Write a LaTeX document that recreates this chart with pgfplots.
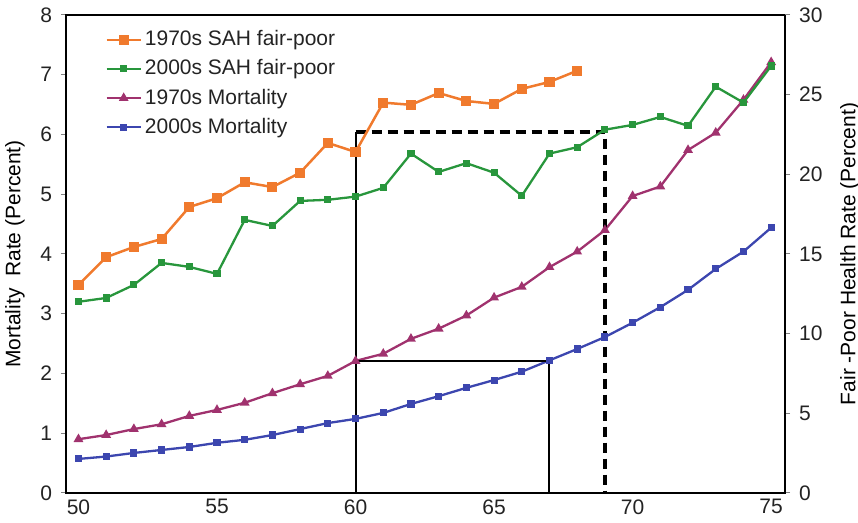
\documentclass[border=0pt]{standalone}
\usepackage{fontspec}
\setmainfont{Liberation Sans}
\usepackage{pgfplots}
\pgfplotsset{compat=1.18}
\definecolor{corange}{RGB}{240,122,45}
\definecolor{cgreen}{RGB}{40,150,60}
\definecolor{cpurple}{RGB}{160,50,110}
\definecolor{cblue}{RGB}{60,70,175}
\definecolor{ctext}{RGB}{35,35,35}
\begin{document}
\begin{tikzpicture}
\pgfplotsset{
 every axis/.append style={
  scale only axis, width=359.5pt, height=239pt,
  xmin=49.55, xmax=75.5,
  font=\fontsize{10.5}{12}\selectfont,
  /pgf/number format/assume math mode=true,
  axis line style={black, line width=0.75pt},
  tick align=outside, major tick length=2.5pt,
  tick style={gray, line width=0.5pt},
  ticklabel style={text=ctext},
  label style={text=ctext},
 }
}
\begin{axis}[name=ax,
  ymin=0, ymax=8, ytick={0,1,...,8}, ytick pos=left,
  xtick={50,55,60,65,70,75}, xtick style={draw=none},
  xticklabel style={yshift=1pt, inner sep=1.5pt},
  yticklabel style={xshift=-1pt},
  ylabel={Mortality\ \ Rate (Percent)},
  every axis y label/.style={at={(rel axis cs:-0.071,0.5)},anchor=center,rotate=90},
]
\addplot[cpurple, line width=1.15pt, mark=triangle*, mark size=1.7pt] coordinates {
(50,0.90)(51,0.97)(52,1.07)(53,1.15)(54,1.29)(55,1.39)(56,1.51)(57,1.67)(58,1.82)(59,1.96)
(60,2.21)(61,2.33)(62,2.58)(63,2.75)(64,2.97)(65,3.27)(66,3.45)(67,3.78)(68,4.04)(69,4.40)
(70,4.97)(71,5.13)(72,5.74)(73,6.03)(74,6.58)(75,7.21)};
\addplot[cblue, line width=1.15pt, mark=square*, mark size=1.2pt] coordinates {
(50,0.57)(51,0.61)(52,0.67)(53,0.72)(54,0.77)(55,0.84)(56,0.89)(57,0.97)(58,1.07)(59,1.17)
(60,1.24)(61,1.34)(62,1.49)(63,1.62)(64,1.76)(65,1.89)(66,2.03)(67,2.22)(68,2.41)(69,2.61)
(70,2.85)(71,3.11)(72,3.40)(73,3.75)(74,4.04)(75,4.44)};
\addplot[black, line width=1pt, no marks] coordinates {(60,0)(60,6.04)};
\addplot[black, line width=1pt, no marks] coordinates {(60,2.21)(67,2.21)(67,0)};
\addplot[black, line width=2pt, dash pattern=on 5pt off 3pt, no marks] coordinates {(60,6.04)(69,6.04)(69,0)};
\end{axis}
\begin{axis}[
  ymin=0, ymax=30, ytick={0,5,...,30},
  axis y line*=right, axis x line=none,
  yticklabel style={xshift=1pt},
  ylabel={Fair -Poor Health Rate (Percent)},
  every axis y label/.style={at={(rel axis cs:1.0904,0.5)},anchor=center,rotate=90},
  legend cell align=left,
  legend style={draw=none, fill=none, at={(0.046,0.985)}, anchor=north west,
    font=\fontsize{10.5}{12}\selectfont, text=ctext, row sep=1.5pt,
    nodes={inner xsep=1.5pt}},
  legend image post style={line width=1.15pt},
]
\addplot[corange, line width=1.25pt, mark=square*, mark size=1.9pt] coordinates {
(50,13.06)(51,14.8)(52,15.44)(53,15.94)(54,17.95)(55,18.5)(56,19.5)(57,19.2)(58,20.1)(59,21.97)
(60,21.4)(61,24.5)(62,24.36)(63,25.1)(64,24.6)(65,24.42)(66,25.36)(67,25.8)(68,26.5)};
\addlegendentry{1970s SAH fair-poor}
\addplot[cgreen, line width=1.15pt, mark=square*, mark size=1.2pt] coordinates {
(50,12.0)(51,12.24)(52,13.06)(53,14.44)(54,14.19)(55,13.75)(56,17.14)(57,16.76)(58,18.33)(59,18.4)
(60,18.6)(61,19.15)(62,21.3)(63,20.15)(64,20.7)(65,20.1)(66,18.65)(67,21.3)(68,21.7)(69,22.8)
(70,23.1)(71,23.6)(72,23.04)(73,25.5)(74,24.5)(75,26.8)};
\addlegendentry{2000s SAH fair-poor}
\addlegendimage{cpurple, line width=1.15pt, mark=triangle*, mark size=1.7pt}
\addlegendentry{1970s Mortality}
\addlegendimage{cblue, line width=1.15pt, mark=square*, mark size=1.2pt}
\addlegendentry{2000s Mortality}
\end{axis}
\pgfresetboundingbox
\useasboundingbox ([xshift=-33pt,yshift=-15pt]ax.south west) rectangle ([xshift=36.5pt,yshift=7.5pt]ax.north east);
\end{tikzpicture}
\end{document}
